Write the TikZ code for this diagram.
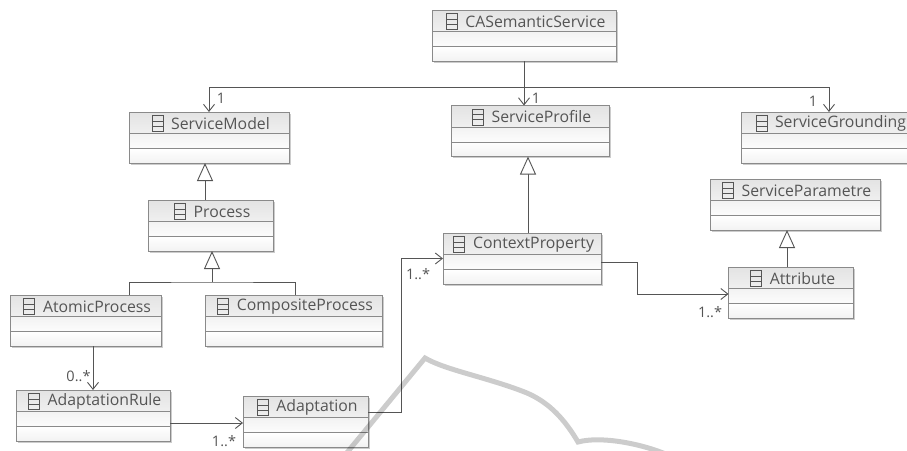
\documentclass[tikz,border=0pt]{standalone}
\usepackage{fontspec}
\setmainfont{Open Sans}
\usetikzlibrary{arrows.meta}
\usetikzlibrary{calc}
\usetikzlibrary{shadows}
\definecolor{inkgrey}{HTML}{555555}
\definecolor{edgegrey}{HTML}{8A8A8A}
\tikzset{
  classbox/.style={shape=rectangle,fill=white,inner sep=0pt,outer sep=0pt,minimum height=51pt,
    drop shadow={shadow xshift=1.5pt,shadow yshift=-1.5pt,fill=black,opacity=0.2}},
  classhead/.style={top color=black!11,bottom color=black!6},
  classmid/.style={top color=black!5,bottom color=black!1},
  classend/.style={top color=white,bottom color=black!5},
  classedge/.style={draw=edgegrey,line width=1pt},
  classicon/.style={draw=inkgrey,line width=0.7pt},
  classtitle/.style={inner sep=0pt,text=inkgrey,font=\fontsize{15.8}{17}\selectfont},
  mult/.style={inner sep=0pt,text=inkgrey,font=\fontsize{14.5}{16}\selectfont},
  assoc/.style={draw=inkgrey,line width=0.9pt,-{Straight Barb[length=7pt,width=11pt]}},
  gen/.style={draw=inkgrey,line width=0.9pt,-{Triangle[open,fill=white,length=18pt,width=16pt]}},
  plainline/.style={draw=inkgrey,line width=0.9pt},
  watermark/.style={draw=black,opacity=0.2,line width=5pt,line join=miter}
}
\begin{document}
\begin{tikzpicture}[x=1pt,y=-1pt]
\useasboundingbox (0,0) rectangle (907,450);
\fill[white] (0,0) rectangle (907,450);
\draw (524,35.5) node (cas) [classbox,minimum width=184pt] {};
\draw (209,137.5) node (model) [classbox,minimum width=160pt] {};
\draw (530,131) node (profile) [classbox,minimum width=158pt] {};
\draw (829,137.5) node (grounding) [classbox,minimum width=176pt] {};
\draw (795,204.5) node (parametre) [classbox,minimum width=170pt] {};
\draw (210.5,225.5) node (process) [classbox,minimum width=125pt] {};
\draw (85.5,320.5) node (atomic) [classbox,minimum width=151pt] {};
\draw (293.5,320.5) node (composite) [classbox,minimum width=177pt] {};
\draw (93,415.5) node (rule) [classbox,minimum width=154pt] {};
\draw (305.5,421.5) node (adaptation) [classbox,minimum width=125pt] {};
\draw (522,258.5) node (context) [classbox,minimum width=158pt] {};
\draw (791,292.5) node (attribute) [classbox,minimum width=125pt] {};
\foreach \c/\t in {cas/CASemanticService,model/ServiceModel,profile/ServiceProfile,grounding/ServiceGrounding,parametre/ServiceParametre,process/Process,atomic/AtomicProcess,composite/CompositeProcess,rule/AdaptationRule,adaptation/Adaptation,context/ContextProperty,attribute/Attribute} {
  \shade[classhead] (\c.north west) rectangle ($(\c.north east)+(0,21.5)$);
  \shade[classmid] ($(\c.north west)+(0,21.5)$) rectangle ($(\c.north east)+(0,36.5)$);
  \shade[classend] ($(\c.north west)+(0,36.5)$) rectangle (\c.south east);
  \draw[classedge] ($(\c.north west)+(0,21.5)$) -- ($(\c.north east)+(0,21.5)$);
  \draw[classedge] ($(\c.north west)+(0,36.5)$) -- ($(\c.north east)+(0,36.5)$);
  \draw[classedge] (\c.north west) rectangle (\c.south east);
  \node (\c t) [classtitle] at ($(\c.north)+(11.5,11.5)$) {\t};
  \draw[classicon] ($(\c t.west)+(-19,-8)$) rectangle ($(\c t.west)+(-8,8)$);
  \draw[classicon] ($(\c t.west)+(-19,-2.5)$) -- ($(\c t.west)+(-8,-2.5)$);
  \draw[classicon] ($(\c t.west)+(-19,2.5)$) -- ($(\c t.west)+(-8,2.5)$);
}
\coordinate (bus) at ($(cas.south)+(0,26)$);
\draw[assoc] (cas.south) -- (cas.south |- profile.north);
\draw[assoc] (bus) -| (model.north);
\draw[assoc] (bus) -| (grounding.north);
\draw[gen] ($(process.north)+(-5.5,0)$) -- ($(model.south)+(-4,0)$);
\draw[gen] ($(context.north)+(6,0)$) -- ($(profile.south)+(-2,0)$);
\draw[gen] ($(attribute.north)+(-4,0)$) -- ($(parametre.south)+(-8,0)$);
\coordinate (forkbar) at ($(process.south)+(1.5,31)$);
\draw[gen] (forkbar) -- ($(process.south)+(1.5,0)$);
\draw[plainline] ($(atomic.north)+(43.5,0)$) |- (forkbar) -| ($(composite.north)+(1.5,0)$);
\draw[assoc] ($(atomic.south)+(7.5,0)$) -- (rule.north);
\coordinate (ruleout) at ($(rule.north east)+(0,33)$);
\draw[assoc] (ruleout) -- (ruleout -| adaptation.west);
\coordinate (adaptout) at ($(adaptation.north east)+(0,16)$);
\draw[assoc] (adaptout) -- ++(33,0) |- (context.west);
\coordinate (contextout) at ($(context.east)+(0,3.5)$);
\draw[assoc] (contextout) -- ++(36,0) |- ($(attribute.west)+(0,1.5)$);
\draw (221,98) node (mult1) [mult] {1};
\draw (536,98) node (mult2) [mult] {1};
\draw (813,101) node (mult3) [mult] {1};
\draw (78.5,376) node (mult4) [mult] {0..*};
\draw (224,441.5) node (mult5) [mult] {1..*};
\draw (418,274) node (mult6) [mult] {1..*};
\draw (710,312) node (mult7) [mult] {1..*};
\draw[watermark] (345,455) -- (425,358) .. controls (445,370) and (490,378) .. (527,393) .. controls (550,403) and (565,420) .. (578,442) .. controls (600,436) and (640,443) .. (668,455);
\end{tikzpicture}
\end{document}
